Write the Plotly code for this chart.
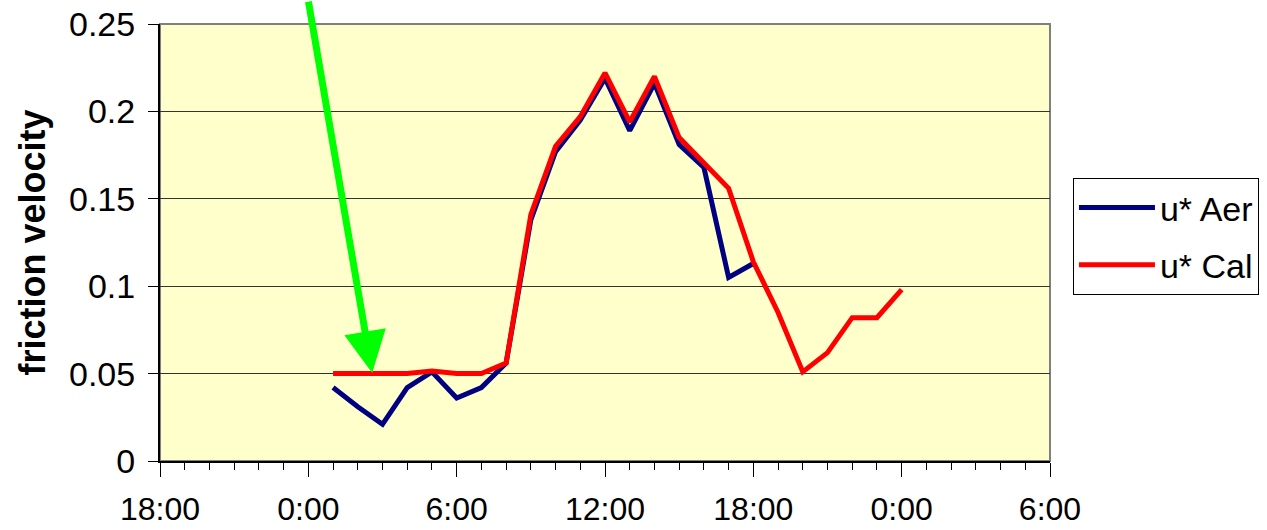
import plotly.graph_objects as go

# ---------------- data ----------------
aer_times = ["2000-01-02 01:00", "2000-01-02 02:00", "2000-01-02 03:00", "2000-01-02 04:00",
             "2000-01-02 05:00", "2000-01-02 06:00", "2000-01-02 07:00", "2000-01-02 08:00",
             "2000-01-02 09:00", "2000-01-02 10:00", "2000-01-02 11:00", "2000-01-02 12:00",
             "2000-01-02 13:00", "2000-01-02 14:00", "2000-01-02 15:00", "2000-01-02 16:00",
             "2000-01-02 17:00", "2000-01-02 18:00"]
aer_values = [0.042, 0.031, 0.021, 0.042, 0.051, 0.036, 0.042, 0.056,
              0.138, 0.177, 0.195, 0.219, 0.189, 0.216, 0.181, 0.168,
              0.105, 0.113]

cal_times = aer_times + ["2000-01-02 19:00", "2000-01-02 20:00", "2000-01-02 21:00",
                         "2000-01-02 22:00", "2000-01-02 23:00", "2000-01-03 00:00"]
cal_values = [0.050, 0.050, 0.050, 0.050, 0.0515, 0.050, 0.050, 0.056,
              0.141, 0.180, 0.197, 0.222, 0.194, 0.220, 0.185, 0.171,
              0.156, 0.114, 0.085, 0.051, 0.062, 0.082, 0.082, 0.098]

series_names = ["u* Aer", "u* Cal"]
y_title = "friction velocity"
x_range = ["2000-01-01 18:00", "2000-01-03 06:00"]
y_range = [0, 0.25]
arrow_tip = ("2000-01-02 02:35", 0.0503)

FONT = "Arial, Liberation Sans, sans-serif"

fig = go.Figure()
fig.add_trace(go.Scatter(x=aer_times, y=aer_values, mode="lines", name=series_names[0],
                         line=dict(color="#000080", width=5), legendgroup="a"))
fig.add_trace(go.Scatter(x=cal_times, y=cal_values, mode="lines", name=series_names[1],
                         line=dict(color="#FF0000", width=5), legendgroup="b"))

fig.add_shape(type="rect", xref="paper", yref="paper", x0=0, x1=1, y0=0, y1=1,
              line=dict(color="#808080", width=2), layer="below")

fig.add_annotation(x=arrow_tip[0], y=arrow_tip[1], ax=-64, ay=-373,
                   showarrow=True, arrowhead=2, arrowwidth=7, arrowsize=1.2,
                   arrowcolor="#00FF00", standoff=0, text="")

fig.update_layout(
    width=1267, height=530,
    margin=dict(l=160, r=217, t=24, b=69, autoexpand=False),
    paper_bgcolor="white",
    plot_bgcolor="#FFFFCC",
    font=dict(family=FONT, color="black", size=32),
    showlegend=True,
    legend=dict(x=1.0258, y=0.6476, xanchor="left", yanchor="top",
                bgcolor="white", bordercolor="black", borderwidth=1,
                font=dict(size=34), traceorder="grouped", tracegroupgap=10,
                itemwidth=76),
    xaxis=dict(
        type="date", range=x_range,
        tick0="2000-01-01 18:00", dtick=6 * 3600 * 1000,
        tickformat="%-H:%M",
        ticks="outside", ticklen=14, tickwidth=1, tickcolor="black",
        minor=dict(dtick=3600 * 1000, ticks="outside", ticklen=7, tickcolor="black", showgrid=False),
        showline=True, linecolor="black", linewidth=2,
        showgrid=False, zeroline=False,
        tickfont=dict(size=32, family=FONT),
        ticklabelstandoff=5,
        ticklabeloverflow="allow",
    ),
    yaxis=dict(
        range=y_range, dtick=0.05, tick0=0,
        ticks="outside", ticklen=10, tickwidth=1, tickcolor="black",
        showline=True, linecolor="black", linewidth=2,
        showgrid=True, gridcolor="#333333", gridwidth=1, zeroline=False,
        tickfont=dict(size=34, family=FONT),
        ticklabelstandoff=6,
        ticklabeloverflow="allow",
        title=dict(text="<b>" + y_title + "</b>", font=dict(size=36, family=FONT), standoff=12),
    ),
)

# remove the default 8px body margin so the figure fills the window exactly
fig.write_html("out.html", config={"displayModeBar": False},
               post_script="document.body.style.margin='0px';")
